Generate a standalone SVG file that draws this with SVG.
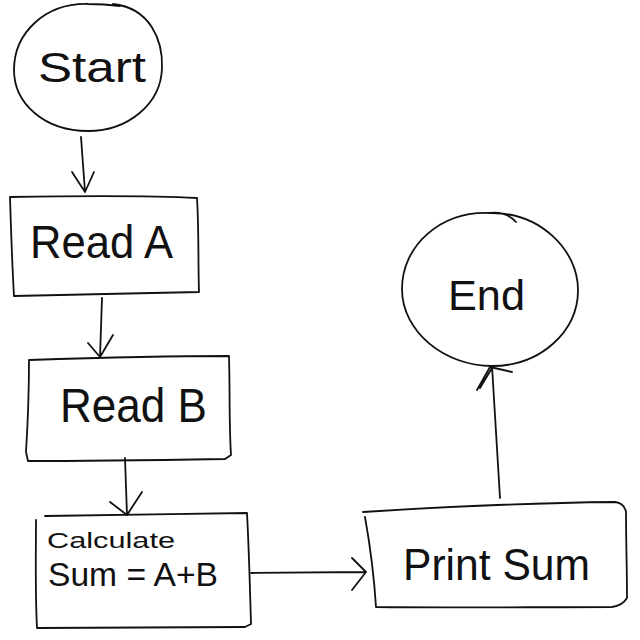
<svg xmlns="http://www.w3.org/2000/svg" width="640" height="640" viewBox="0 0 640 640">
<style>
.ln{fill:none;stroke:#111;stroke-width:1.8;stroke-linecap:round;stroke-linejoin:round}
.tx{font-family:"Liberation Sans","DejaVu Sans",sans-serif;fill:#111}
</style>
<rect width="640" height="640" fill="#fff"/>
<g id="start">
<path class="ln" d="M113,4 C150,8 163,40 162,68 C161,104 128,131 88,131 C45,131 14,104 14,70 C14,33 45,3 88,4 C100,4 112,5 120,6"/>
<text class="tx" x="38" y="82" font-size="42" textLength="108" lengthAdjust="spacingAndGlyphs">Start</text>
</g>
<g id="readA">
<path class="ln" d="M10,197 C70,196 140,195 197,198 C199,230 198,262 199,292 C140,293 70,295 14,296 C12,262 11,230 10,197"/>
<text class="tx" x="30" y="258" font-size="46" textLength="143" lengthAdjust="spacingAndGlyphs">Read A</text>
</g>
<g id="readB">
<path class="ln" d="M29,360 C90,358 160,356 229,356 C230,390 229,425 231,455 L225,459 C160,460 90,461 28,461 L26,452 C28,420 29,390 29,360"/>
<text class="tx" x="60" y="422" font-size="48" textLength="147" lengthAdjust="spacingAndGlyphs">Read B</text>
</g>
<g id="calc">
<path class="ln" d="M45,516 C110,515 180,514 247,513 C249,550 250,590 251,624 L245,627 C180,627 110,628 37,628 C35,590 36,550 36,520"/>
<text class="tx" x="47" y="548" font-size="22" textLength="128" lengthAdjust="spacingAndGlyphs">Calculate</text>
<text class="tx" x="48" y="586" font-size="34" textLength="170" lengthAdjust="spacingAndGlyphs">Sum = A+B</text>
</g>
<g id="print">
<path class="ln" d="M363,512 C440,507 520,503 615,502 C622,503 625,506 626,512 C626,540 627,570 627,598 C624,603 620,606 612,607 C530,607 450,608 376,607 C374,575 370,545 365,517"/>
<text class="tx" x="403" y="580" font-size="44" textLength="187" lengthAdjust="spacingAndGlyphs">Print Sum</text>
</g>
<g id="end">
<path class="ln" d="M490,213 C540,212 578,250 578,290 C578,332 540,366 492,366 C445,366 402,332 402,289 C402,246 440,211 490,213 C500,212 510,215 516,222"/>
<text class="tx" x="448" y="310" font-size="42" textLength="77" lengthAdjust="spacingAndGlyphs">End</text>
</g>
<g id="connectors">
<path class="ln" d="M81,137 L85,192 M72,172 L85,192 L94,172"/>
<path class="ln" d="M102,298 L100,357 M88,343 L100,357 L113,335"/>
<path class="ln" d="M125,458 L127,515 M110,502 L127,515 L142,492"/>
<path class="ln" d="M251,573 L366,572 M352,558 L366,572 L352,590"/>
<path class="ln" d="M500,498 L492,366 M477,390 L490,367 L512,372 M480,388 L492,368"/>
</g>
</svg>
